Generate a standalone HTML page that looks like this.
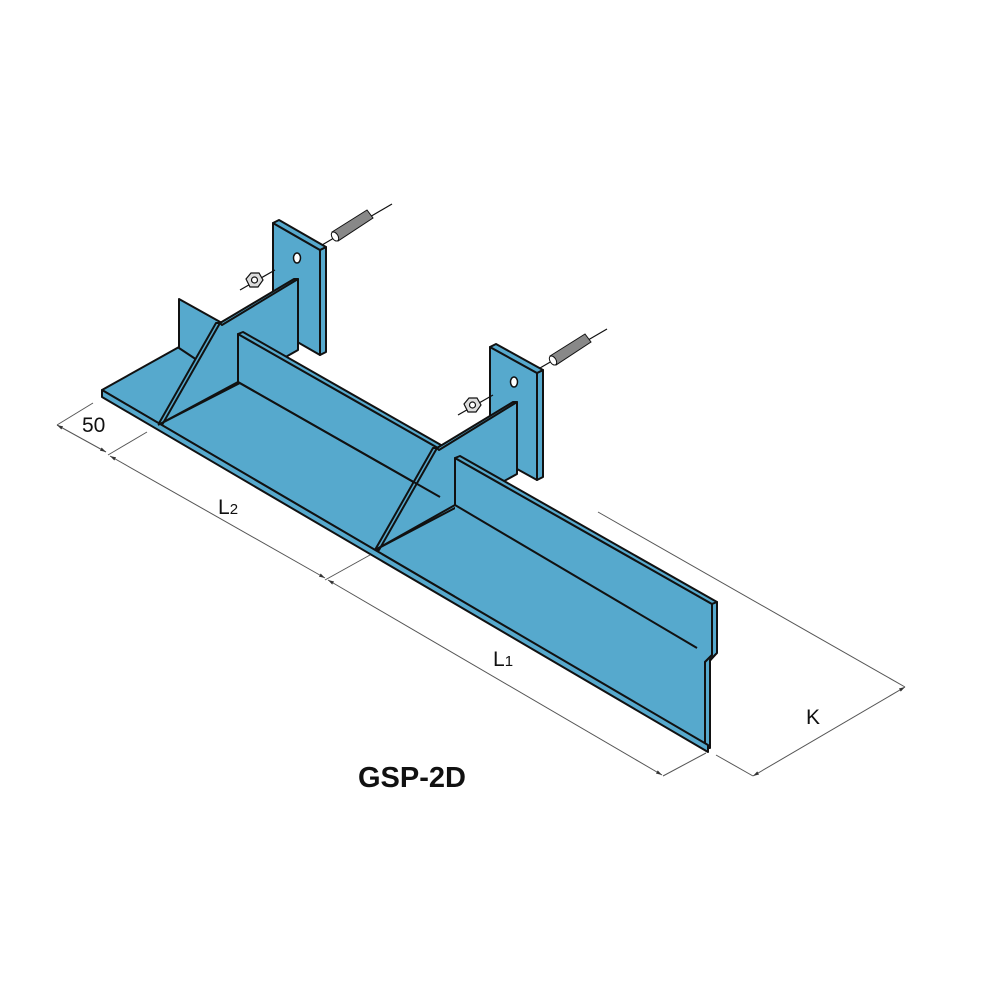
<!DOCTYPE html>
<html><head><style>body{margin:0;background:#fff}svg{display:block}</style></head>
<body>
<svg width="1000" height="1000" viewBox="0 0 1000 1000" xmlns="http://www.w3.org/2000/svg">
<defs>
<marker id="a" viewBox="0 0 10 10" refX="10" refY="5" markerWidth="6" markerHeight="6" orient="auto-start-reverse"><path d="M0,2 L10,5 L0,8 z" fill="#333"/></marker>
</defs>
<g stroke="#111" stroke-width="2" stroke-linejoin="round" fill="#56a9cd">
<!-- floor -->
<polygon points="102,390 179,347 715,605 715,655 708,663 708,745"/>
<!-- mount plate 1 -->
<polygon points="273,223 320,250 320,355 273,328"/>
<polygon points="320,250 326,247 326,352 320,355"/>
<polygon points="273,223 279,220 326,247 320,250"/>
<ellipse cx="297" cy="258" rx="3.5" ry="5" fill="#fff" stroke-width="1.5"/>
<!-- mount plate 2 -->
<polygon points="490,347 537,373 537,480 490,454"/>
<polygon points="537,373 543,370 543,477 537,480"/>
<polygon points="490,347 496,344 543,370 537,373"/>
<ellipse cx="514" cy="382" rx="3.5" ry="5" fill="#fff" stroke-width="1.5"/>
<!-- transverse plate 1 -->
<polygon points="179,299 222,323 200,362 179,348"/>
<polygon points="158,425 220,323 298,279 298,350 238,384"/>
<polygon points="158,425 216,323 220,323 162,425"/>
<polygon points="220,323 294,279 298,279 222,325"/>
<!-- wall 1 -->
<polygon points="238,334 445,452 445,500 238,382"/>
<polygon points="238,334 243,332 448,449 445,452"/>
<!-- transverse plate 2 -->
<polygon points="375,550 437,448 517,402 517,474 455,508"/>
<polygon points="375,550 433,448 437,448 379,550"/>
<polygon points="437,448 513,402 517,402 439,450"/>
</g>
<!-- wall 2 -->
<polygon points="455,458 712,604 712,655 705,662 705,745 455,598" fill="#56a9cd"/>
<g stroke="#111" stroke-width="2" stroke-linejoin="round" fill="#56a9cd">
<path d="M455,505 L455,458 L712,604 L712,655 L705,662 L705,745" fill="none"/>
<polygon points="455,458 460,456 717,602 712,604"/>
<polygon points="712,604 717,602 717,653 710,660 710,748 705,748 705,662 712,655"/>
<polygon points="102,390 708,745 708,752 102,397"/>
</g>
<g stroke="#111" stroke-width="2" fill="none">
<line x1="238" y1="382" x2="158" y2="425"/>
<line x1="238" y1="382" x2="440" y2="497"/>
<line x1="455" y1="505" x2="375" y2="550"/>
<line x1="455" y1="505" x2="697" y2="648"/>
</g>
<!-- nuts & studs -->
<g stroke="#111" stroke-width="1.2">
<line x1="240" y1="290" x2="275" y2="270"/>
<polygon points="246,279 251,273 259,273 263,280 258,287 250,287" fill="#ddd"/>
<circle cx="254.5" cy="280" r="3" fill="#fff"/>
<line x1="458" y1="415" x2="493" y2="395"/>
<polygon points="464,404 469,398 477,398 481,405 476,412 468,412" fill="#ddd"/>
<circle cx="472.5" cy="405" r="3" fill="#fff"/>
<line x1="322" y1="245" x2="392" y2="204"/>
<line x1="540" y1="368" x2="607" y2="329"/>
</g>
<g stroke="#111" stroke-width="1" fill="#888">
<polygon points="332,232 367,210 373,218 338,241"/>
<polygon points="550,356 585,334 591,342 556,365"/>
<ellipse cx="335" cy="236.5" rx="3" ry="5" fill="#fff" transform="rotate(-32 335 236.5)"/>
<ellipse cx="553" cy="360.5" rx="3" ry="5" fill="#fff" transform="rotate(-32 553 360.5)"/>
</g>
<!-- dimensions -->
<g stroke="#555" stroke-width="1" fill="none">
<line x1="57" y1="425" x2="93" y2="403"/>
<line x1="57" y1="425" x2="106" y2="452" marker-start="url(#a)" marker-end="url(#a)"/>
<line x1="147" y1="432" x2="108" y2="455"/>
<line x1="110" y1="456" x2="325" y2="578" marker-start="url(#a)" marker-end="url(#a)"/>
<line x1="370" y1="555" x2="325" y2="580"/>
<line x1="328" y1="580" x2="662" y2="775" marker-start="url(#a)" marker-end="url(#a)"/>
<line x1="706" y1="753" x2="663" y2="776"/>
<line x1="716" y1="755" x2="753" y2="776"/>
<line x1="753" y1="776" x2="905" y2="687" marker-start="url(#a)" marker-end="url(#a)"/>
<line x1="598" y1="512" x2="905" y2="687"/>
</g>
<g font-family="Liberation Sans, sans-serif" fill="#111">
<text x="82" y="432" font-size="21">50</text>
<text x="218" y="514" font-size="21">L<tspan font-size="15">2</tspan></text>
<text x="493" y="666" font-size="21">L<tspan font-size="15">1</tspan></text>
<text x="806" y="724" font-size="21">K</text>
<text x="358" y="787" font-size="29" font-weight="bold">GSP-2D</text>
</g>
</svg>
</body></html>
